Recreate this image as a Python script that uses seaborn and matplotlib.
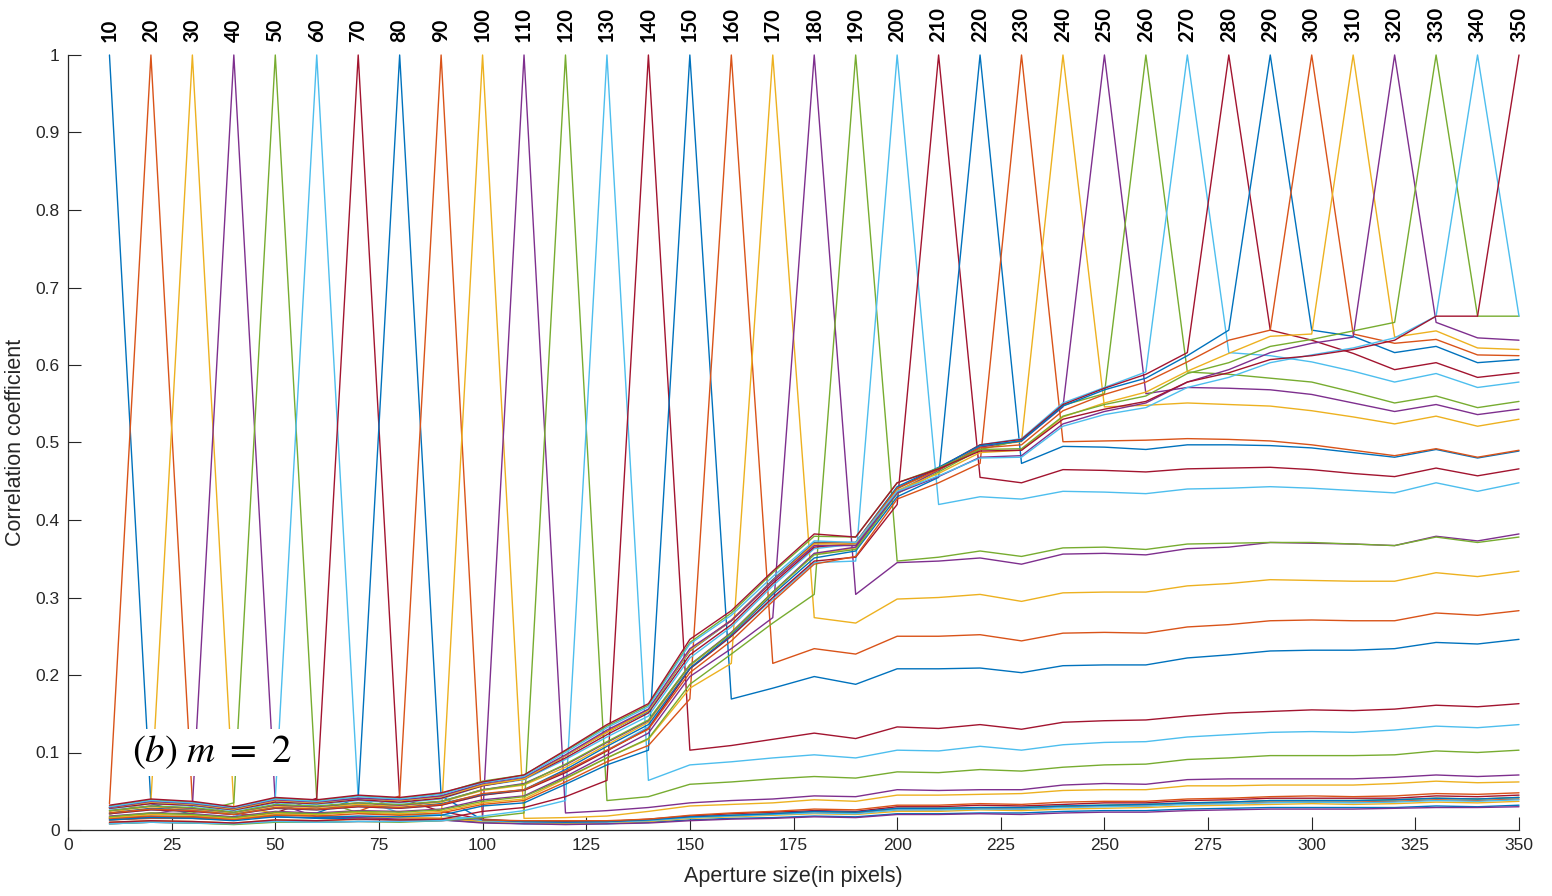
import numpy as np
import pandas as pd
import matplotlib
matplotlib.use("Agg")
import matplotlib.pyplot as plt
import seaborn as sns

# aperture sizes (one curve per aperture, also the x positions)
apertures = [10, 20, 30, 40, 50, 60, 70, 80, 90, 100, 110, 120, 130, 140, 150, 160, 170, 180,
             190, 200, 210, 220, 230, 240, 250, 260, 270, 280, 290, 300, 310, 320, 330, 340, 350]

# correlation of aperture k with every larger aperture
row_10 = [0.034, 0.020, 0.016, 0.017, 0.015, 0.015, 0.013, 0.013, 0.010,
          0.008, 0.008, 0.008, 0.010, 0.013, 0.015, 0.016, 0.018, 0.017, 0.021,
          0.021, 0.022, 0.022, 0.024, 0.025, 0.025, 0.027, 0.028, 0.029, 0.029,
          0.029, 0.029, 0.031, 0.030, 0.032]
row_20 = [0.037, 0.020, 0.020, 0.018, 0.017, 0.016, 0.015, 0.012,
          0.010, 0.010, 0.010, 0.012, 0.016, 0.018, 0.020, 0.022, 0.022, 0.026,
          0.026, 0.028, 0.027, 0.030, 0.031, 0.031, 0.034, 0.034, 0.036, 0.036,
          0.036, 0.037, 0.039, 0.038, 0.040]
row_30 = [0.030, 0.022, 0.018, 0.017, 0.016, 0.015, 0.011,
          0.009, 0.009, 0.009, 0.011, 0.015, 0.017, 0.019, 0.021, 0.020, 0.024,
          0.024, 0.026, 0.025, 0.027, 0.028, 0.029, 0.031, 0.032, 0.033, 0.034,
          0.033, 0.034, 0.036, 0.035, 0.037]
row_40 = [0.035, 0.017, 0.016, 0.014, 0.013, 0.009,
          0.008, 0.007, 0.008, 0.009, 0.012, 0.014, 0.015, 0.017, 0.016, 0.020,
          0.020, 0.021, 0.020, 0.022, 0.023, 0.023, 0.025, 0.026, 0.027, 0.027,
          0.027, 0.028, 0.029, 0.029, 0.030]
row_50 = [0.040, 0.022, 0.020, 0.019, 0.013,
          0.011, 0.010, 0.011, 0.013, 0.017, 0.019, 0.021, 0.024, 0.023, 0.028,
          0.028, 0.029, 0.029, 0.031, 0.032, 0.033, 0.035, 0.036, 0.038, 0.038,
          0.038, 0.039, 0.041, 0.040, 0.042]
row_60 = [0.041, 0.022, 0.020, 0.012,
          0.010, 0.010, 0.010, 0.012, 0.016, 0.018, 0.020, 0.022, 0.021, 0.026,
          0.026, 0.027, 0.027, 0.029, 0.030, 0.031, 0.033, 0.034, 0.035, 0.036,
          0.035, 0.036, 0.038, 0.037, 0.039]
row_70 = [0.041, 0.024, 0.014,
          0.011, 0.011, 0.011, 0.014, 0.018, 0.021, 0.023, 0.025, 0.024, 0.030,
          0.030, 0.032, 0.031, 0.033, 0.035, 0.035, 0.038, 0.039, 0.041, 0.041,
          0.041, 0.041, 0.044, 0.043, 0.045]
row_80 = [0.044, 0.013,
          0.011, 0.010, 0.011, 0.013, 0.017, 0.019, 0.021, 0.024, 0.023, 0.028,
          0.028, 0.029, 0.029, 0.031, 0.032, 0.033, 0.035, 0.036, 0.038, 0.038,
          0.038, 0.039, 0.041, 0.040, 0.042]
row_90 = [0.013,
          0.012, 0.012, 0.012, 0.014, 0.019, 0.022, 0.024, 0.027, 0.026, 0.032,
          0.032, 0.034, 0.033, 0.036, 0.037, 0.037, 0.040, 0.041, 0.043, 0.044,
          0.043, 0.044, 0.047, 0.046, 0.048]
row_100 = [0.015, 0.016, 0.018, 0.024, 0.031, 0.033, 0.035, 0.039, 0.037, 0.045,
           0.045, 0.046, 0.047, 0.051, 0.052, 0.052, 0.057, 0.057, 0.058, 0.058,
           0.058, 0.060, 0.063, 0.061, 0.062]
row_110 = [0.022, 0.025, 0.029, 0.035, 0.038, 0.040, 0.044, 0.043, 0.052,
           0.051, 0.052, 0.052, 0.058, 0.060, 0.059, 0.065, 0.066, 0.066, 0.066,
           0.066, 0.068, 0.071, 0.069, 0.071]
row_120 = [0.038, 0.043, 0.059, 0.062, 0.066, 0.069, 0.067, 0.075,
           0.074, 0.078, 0.076, 0.081, 0.084, 0.085, 0.091, 0.093, 0.096, 0.096,
           0.096, 0.097, 0.102, 0.100, 0.103]
row_130 = [0.064, 0.084, 0.088, 0.093, 0.097, 0.093, 0.103,
           0.102, 0.108, 0.103, 0.110, 0.113, 0.114, 0.120, 0.123, 0.126, 0.127,
           0.126, 0.129, 0.134, 0.132, 0.136]
row_140 = [0.103, 0.109, 0.117, 0.125, 0.118, 0.133,
           0.131, 0.136, 0.130, 0.139, 0.141, 0.142, 0.147, 0.151, 0.153, 0.155,
           0.154, 0.156, 0.161, 0.159, 0.163]
row_150 = [0.169, 0.183, 0.198, 0.188, 0.208,
           0.208, 0.209, 0.203, 0.212, 0.213, 0.213, 0.222, 0.226, 0.231, 0.232,
           0.232, 0.234, 0.242, 0.240, 0.246]
row_160 = [0.215, 0.234, 0.227, 0.250,
           0.250, 0.252, 0.244, 0.254, 0.255, 0.254, 0.262, 0.265, 0.270, 0.271,
           0.270, 0.270, 0.280, 0.277, 0.283]
row_170 = [0.274, 0.267, 0.298,
           0.300, 0.304, 0.295, 0.306, 0.307, 0.307, 0.315, 0.318, 0.323, 0.322,
           0.321, 0.321, 0.332, 0.327, 0.334]
row_180 = [0.304, 0.345,
           0.347, 0.351, 0.343, 0.356, 0.357, 0.355, 0.363, 0.365, 0.371, 0.370,
           0.369, 0.367, 0.379, 0.373, 0.382]
row_190 = [0.347,
           0.352, 0.360, 0.353, 0.364, 0.365, 0.362, 0.369, 0.370, 0.371, 0.371,
           0.369, 0.367, 0.378, 0.371, 0.378]
row_200 = [0.420, 0.430, 0.427, 0.437, 0.436, 0.434, 0.440, 0.441, 0.443, 0.441,
           0.438, 0.435, 0.448, 0.437, 0.448]
row_210 = [0.455, 0.448, 0.465, 0.464, 0.462, 0.466, 0.467, 0.468, 0.465,
           0.460, 0.456, 0.467, 0.457, 0.466]
row_220 = [0.473, 0.495, 0.494, 0.491, 0.497, 0.497, 0.496, 0.493,
           0.487, 0.481, 0.491, 0.480, 0.489]
row_230 = [0.501, 0.502, 0.503, 0.505, 0.504, 0.502, 0.497,
           0.490, 0.483, 0.492, 0.481, 0.490]
row_240 = [0.546, 0.548, 0.551, 0.549, 0.547, 0.541,
           0.533, 0.524, 0.534, 0.521, 0.530]
row_250 = [0.563, 0.571, 0.570, 0.568, 0.562,
           0.551, 0.540, 0.549, 0.536, 0.543]
row_260 = [0.591, 0.588, 0.583, 0.578,
           0.565, 0.551, 0.560, 0.545, 0.553]
row_270 = [0.616, 0.612, 0.604, 0.592, 0.578, 0.589, 0.571, 0.578]
row_280 = [0.645, 0.632, 0.615, 0.594, 0.603, 0.584, 0.590]
row_290 = [0.645, 0.637, 0.616, 0.624, 0.603, 0.607]
row_300 = [0.640, 0.628, 0.633, 0.613, 0.612]
row_310 = [0.636, 0.644, 0.622, 0.620]
row_320 = [0.655, 0.635, 0.632]
row_330 = [0.663, 0.663]
row_340 = [0.663]

rows = [row_10, row_20, row_30, row_40, row_50, row_60, row_70, row_80, row_90, row_100,
        row_110, row_120, row_130, row_140, row_150, row_160, row_170, row_180, row_190,
        row_200, row_210, row_220, row_230, row_240, row_250, row_260, row_270, row_280,
        row_290, row_300, row_310, row_320, row_330, row_340]

# full symmetric table, 1 on the diagonal
n = len(apertures)
corr = np.eye(n)
for i, row in enumerate(rows):
    corr[i, i + 1:] = row
    corr[i + 1:, i] = row

df = pd.DataFrame([
    {"aperture": apertures[i], "x": apertures[j], "corr": corr[i, j]}
    for i in range(n) for j in range(n)
])

# MATLAB default color order
matlab_colors = ["#0072BD", "#D95319", "#EDB120", "#7E2F8E", "#77AC30", "#4DBEEE", "#A2142F"]
palette = {ap: matlab_colors[k % 7] for k, ap in enumerate(apertures)}

sns.set_theme(style="ticks")
plt.rcParams["font.family"] = ["Liberation Sans", "DejaVu Sans"]
plt.rcParams["mathtext.fontset"] = "stix"

W, H = 1552, 896
fig = plt.figure(figsize=(W / 100, H / 100), dpi=100)
ax = fig.add_axes([68 / W, 1 - 830 / H, (1519 - 68) / W, (830 - 55) / H])

sns.lineplot(data=df, x="x", y="corr", hue="aperture", hue_order=apertures,
             palette=palette, estimator=None, legend=False, linewidth=1.0, ax=ax)
for ln in ax.lines:
    ln.set_clip_on(False)

ax.set_xlim(0, 350)
ax.set_ylim(0, 1)
ax.set_xticks(range(0, 351, 25))
yt = [0, 0.1, 0.2, 0.3, 0.4, 0.5, 0.6, 0.7, 0.8, 0.9, 1]
ax.set_yticks(yt)
ax.set_yticklabels(["0", "0.1", "0.2", "0.3", "0.4", "0.5", "0.6", "0.7", "0.8", "0.9", "1"])

axis_col = "#262626"
ax.tick_params(direction="in", length=9.5, width=0.8, color=axis_col,
               labelcolor=axis_col, labelsize=12.5, pad=6)
sns.despine(ax=ax)
for s in ["left", "bottom"]:
    ax.spines[s].set_color(axis_col)
    ax.spines[s].set_linewidth(0.9)

ax.set_xlabel("Aperture size(in pixels)", fontsize=15.5, color=axis_col, labelpad=9)
ax.set_ylabel("Correlation coefficient", fontsize=15.5, color=axis_col, labelpad=7)

# aperture labels above each peak
for ap in apertures:
    ax.annotate(str(ap), xy=(ap, 1), xycoords="data", xytext=(0, 9),
                textcoords="offset points", rotation=90, ha="center", va="bottom",
                fontsize=14.5, fontweight="bold", color="black",
                family=["Lato", "DejaVu Sans"], annotation_clip=False)

ax.text(15.5, 0.1, r"$(b)\ m\ =\ 2$", fontsize=28, va="center", ha="left",
        color="black", zorder=10,
        bbox=dict(facecolor="white", edgecolor="none", pad=3))

fig.savefig("out.png", dpi=100)
